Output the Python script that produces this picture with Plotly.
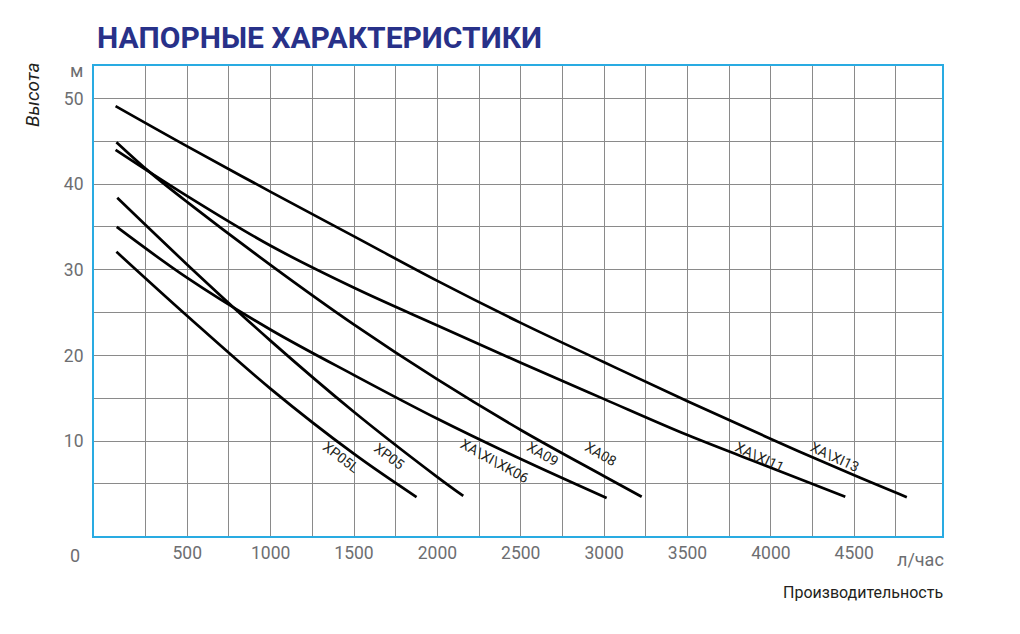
import plotly.graph_objects as go

# ---------------- data ----------------
# flow (l/h) and head (m) for each pump curve
a_flow = [70, 500, 1000, 1500, 2000, 2500, 3000, 3500, 4000, 4500, 4815]
a_head = [49.1, 44.4, 39.1, 33.9, 28.7, 23.8, 19.2, 14.65, 10.25, 6.0, 3.45]

b_flow = [70, 500, 1000, 1500, 2000, 2500, 3000, 3500, 4000, 4446]
b_head = [44.0, 38.6, 32.8, 27.9, 23.5, 19.15, 14.9, 10.7, 6.9, 3.5]

c_flow = [75, 275, 500, 1000, 1500, 2000, 2500, 3000, 3225]
c_head = [44.9, 41.4, 37.9, 30.55, 23.6, 17.2, 11.3, 5.9, 3.5]

d_flow = [80, 500, 1000, 1500, 2000, 2155]
d_head = [38.4, 30.6, 21.7, 13.4, 5.8, 3.6]

e_flow = [77, 500, 1000, 1500, 2000, 2500, 3015]
e_head = [35.0, 29.05, 23.0, 17.7, 12.6, 7.9, 3.35]

f_flow = [75, 500, 1000, 1500, 1875]
f_head = [32.1, 24.6, 16.1, 8.5, 3.46]

curve_labels = ["XP05L", "XP05", "XA\\XI\\XK06", "XA09", "XA08", "XA\\XI11", "XA\\XI13"]
label_flow = [1422, 1710, 2345, 2633, 2981, 3935, 4385]
label_head = [8.2, 8.3, 7.7, 8.5, 8.5, 8.2, 8.2]
label_angle = [37, 37, 29, 30, 30, 25, 25]

x_grid_vals = [250 * k for k in range(1, 20)]
x_tick_labels = [str(v) if v % 500 == 0 else "" for v in x_grid_vals]
y_grid_vals = [5 * k for k in range(1, 11)]
y_tick_labels = [str(v) if v % 10 == 0 else "" for v in y_grid_vals]

title_text = "НАПОРНЫЕ ХАРАКТЕРИСТИКИ"
y_title = "Высота"
y_unit = "м"
x_title = "Производительность"
x_unit = "л/час"

# ---------------- styling ----------------
# the page body has an 8px margin, so the figure is 1004x618 placed at (8,8)
W, H = 1004, 618
L, R, T, B = 86, 70, 58, 90
PLOT_LEFT, PLOT_TOP = 94, 66            # absolute screen position of the plot area
PW, PH = W - L - R, H - T - B
NARROW = "Roboto, Liberation Sans, sans-serif"
GREY = "#6d6e71"
GRID = "rgb(138,138,138)"
BLUE = "#29ABE2"


def px_x(p):
    return (p - PLOT_LEFT) / PW


def px_y(p):
    return (PLOT_TOP + PH - p) / PH


fig = go.Figure()
for fx, fy in [(a_flow, a_head), (b_flow, b_head), (c_flow, c_head),
               (d_flow, d_head), (e_flow, e_head), (f_flow, f_head)]:
    fig.add_trace(go.Scatter(x=fx, y=fy, mode="lines",
                             line=dict(color="black", width=2.7, shape="spline", smoothing=1.0),
                             showlegend=False, hoverinfo="skip"))

annotations = []
for t, lx, ly, ang in zip(curve_labels, label_flow, label_head, label_angle):
    annotations.append(dict(x=lx, y=ly, xref="x", yref="y", text=t, showarrow=False,
                            textangle=ang, font=dict(family=NARROW, size=14, color="#231f20"),
                            xanchor="center", yanchor="middle"))

annotations += [
    dict(x=px_x(95), y=px_y(37), xref="paper", yref="paper", text="<b>" + title_text + "</b>",
         showarrow=False, xanchor="left", yanchor="middle",
         font=dict(family="Roboto, Open Sans, sans-serif", size=30, color="#283189")),
    dict(x=px_x(32), y=px_y(95), xref="paper", yref="paper", text="<i>" + y_title + "</i>",
         showarrow=False, textangle=-90, xanchor="center", yanchor="middle",
         font=dict(family=NARROW, size=19, color="#231f20")),
    dict(x=px_x(76), y=px_y(71), xref="paper", yref="paper", text=y_unit,
         showarrow=False, xanchor="center", yanchor="middle",
         font=dict(family=NARROW, size=18, color=GREY)),
    dict(x=px_x(75), y=px_y(555), xref="paper", yref="paper", text="0",
         showarrow=False, xanchor="center", yanchor="middle",
         font=dict(family=NARROW, size=18, color=GREY)),
    dict(x=px_x(946), y=px_y(559), xref="paper", yref="paper", text=x_unit,
         showarrow=False, xanchor="right", yanchor="middle",
         font=dict(family=NARROW, size=18, color=GREY)),
    dict(x=px_x(945), y=px_y(592), xref="paper", yref="paper", text=x_title,
         showarrow=False, xanchor="right", yanchor="middle",
         font=dict(family=NARROW, size=16, color="#231f20")),
]

fig.update_layout(
    width=W, height=H,
    margin=dict(l=L, r=R, t=T, b=B, pad=0),
    paper_bgcolor="white", plot_bgcolor="white",
    annotations=annotations,
    xaxis=dict(range=[-59.4, 5026], tickmode="array", tickvals=x_grid_vals, ticktext=x_tick_labels,
               showgrid=True, gridcolor=GRID, gridwidth=1.3, zeroline=False,
               showline=True, mirror=True, linecolor=BLUE, linewidth=2, ticks="", ticklen=0,
               tickfont=dict(family=NARROW, size=17.5, color=GREY), ticklabelstandoff=0),
    yaxis=dict(range=[-1.08, 53.79], tickmode="array", tickvals=y_grid_vals, ticktext=y_tick_labels,
               showgrid=True, gridcolor=GRID, gridwidth=1.3, zeroline=False,
               showline=True, mirror=True, linecolor=BLUE, linewidth=2, ticks="", ticklen=0,
               tickfont=dict(family=NARROW, size=17.5, color=GREY), ticklabelstandoff=5),
)

fig.write_html("out.html")
